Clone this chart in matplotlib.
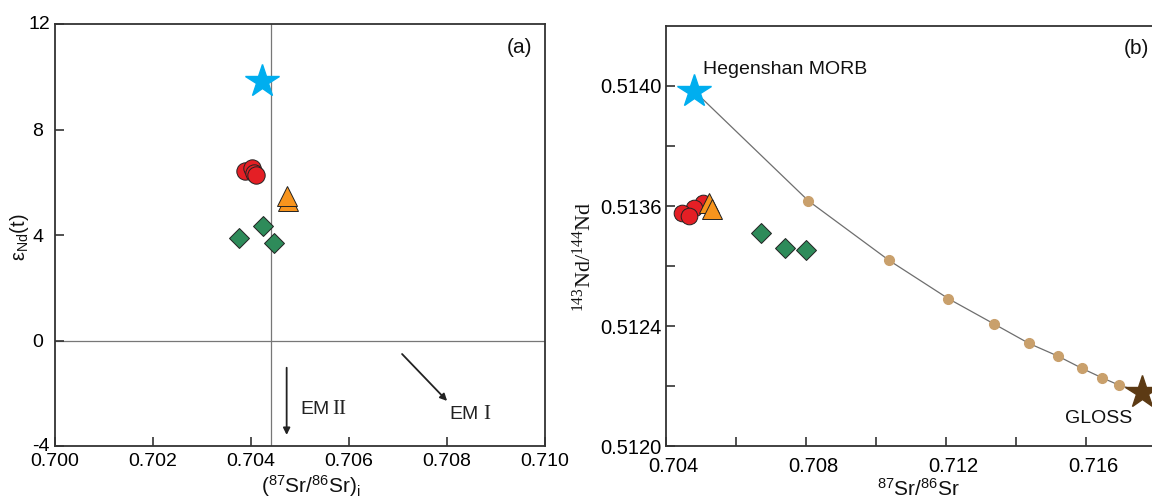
import numpy as np
import matplotlib
matplotlib.use("Agg")
import matplotlib.pyplot as plt
from matplotlib.transforms import ScaledTranslation
from matplotlib.ticker import FixedLocator, FixedFormatter, NullLocator

plt.rcParams['font.family'] = ['Liberation Sans', 'DejaVu Sans']
plt.rcParams['mathtext.fontset'] = 'custom'
plt.rcParams['mathtext.rm'] = 'Liberation Sans'

# ---------------- Data: panel (a) ----------------
a_morb_x = [0.70424]
a_morb_y = [9.85]
a_circle_x = [0.70389, 0.70403, 0.70407, 0.70411]
a_circle_y = [6.45, 6.54, 6.35, 6.28]
a_tri_x = [0.70476, 0.70475]
a_tri_y = [5.30, 5.48]
a_dia_x = [0.70377, 0.70425, 0.70448]
a_dia_y = [3.88, 4.35, 3.71]
a_ref_x = 0.70441
a_ref_y = 0.0
a_xticks = [0.700, 0.702, 0.704, 0.706, 0.708, 0.710]
a_xticklabels = ['0.700', '0.702', '0.704', '0.706', '0.708', '0.710']
a_yticks = [-4, 0, 4, 8, 12]
a_yticklabels = ['-4', '0', '4', '8', '12']

# ---------------- Data: panel (b) ----------------
b_morb_x = [0.70481]
b_morb_y = [0.513983]
b_circle_x = [0.70507, 0.70481, 0.70446, 0.70467]
b_circle_y = [0.51361, 0.51358, 0.51353, 0.51350]
b_tri_x = [0.70524, 0.70531]
b_tri_y = [0.51361, 0.51357]
b_dia_x = [0.70671, 0.70741, 0.70801]
b_dia_y = [0.513327, 0.513183, 0.513157]
mix_x = [0.70807, 0.71037, 0.71207, 0.71336, 0.71437, 0.71521, 0.71588, 0.71645, 0.71694]
mix_y = [0.513617, 0.513057, 0.512673, 0.512423, 0.512342, 0.512299, 0.512259, 0.512228, 0.512203]
gloss_x = [0.71759]
gloss_y = [0.51218]
b_xticks = [0.704, 0.706, 0.708, 0.710, 0.712, 0.714, 0.716, 0.718]
b_xticklabels = ['0.704', '', '0.708', '', '0.712', '', '0.716', '']
b_yticks = [0.5120, 0.5122, 0.5124, 0.5130, 0.5136, 0.5138, 0.5140]
b_yticklabels = ['0.5120', '', '0.5124', '', '0.5136', '', '0.5140']
# piecewise axis breaks of the original figure (value -> tick index)
b_axis_vals = [0.5100, 0.5120, 0.5124, 0.5136, 0.5160]
b_axis_idx = [-10, 0, 2, 4, 16]

RED = '#E41F25'
ORANGE = '#F7941D'
GREEN = '#2E8B5A'
CYAN = '#00AEEF'
TAN = '#C9A06C'
BROWN = '#5C3A14'
SPINE = '#333333'

fig = plt.figure(figsize=(11.52, 4.98), dpi=100)
W, H = 1152.0, 498.0

def style_axes(ax):
    for s in ax.spines.values():
        s.set_color(SPINE)
        s.set_linewidth(1.3)

# ================= Panel (a) =================
axa = fig.add_axes([54.5 / W, 1 - 446 / H, 490.5 / W, 421.7 / H])
style_axes(axa)
axa.set_xlim(0.700, 0.710)
axa.set_ylim(-4, 12)
axa.axvline(a_ref_x, color='#777777', lw=0.9, zorder=1)
axa.axhline(a_ref_y, color='#777777', lw=0.9, zorder=1)

axa.plot(a_morb_x, a_morb_y, ls='none', marker='*', ms=25, mfc=CYAN, mec=CYAN, zorder=5)
axa.plot(a_circle_x, a_circle_y, ls='none', marker='o', ms=12.5, mfc=RED, mec='#222222', mew=0.7, zorder=5)
axa.plot(a_tri_x, a_tri_y, ls='none', marker='^', ms=15, mfc=ORANGE, mec='#222222', mew=0.7, zorder=5)
axa.plot(a_dia_x, a_dia_y, ls='none', marker='D', ms=10, mfc=GREEN, mec='#222222', mew=0.7, zorder=5)

axa.annotate('', xy=(0.704733, -3.58), xytext=(0.704733, -1.03),
             arrowprops=dict(arrowstyle='-|>', color='#222222', lw=1.3, mutation_scale=10,
                             shrinkA=0, shrinkB=0))
axa.annotate('', xy=(0.708004, -2.29), xytext=(0.707086, -0.51),
             arrowprops=dict(arrowstyle='-|>', color='#222222', lw=1.3, mutation_scale=10,
                             shrinkA=0, shrinkB=0))
axa.text(0.70501, -2.61, 'EM', fontsize=14, va='center', ha='left', color='#222222')
axa.text(0.70567, -2.61, 'II', fontsize=15, va='center', ha='left', color='#222222',
         family='Liberation Serif')
axa.text(0.70805, -2.79, 'EM', fontsize=14, va='center', ha='left', color='#222222')
axa.text(0.70874, -2.79, 'I', fontsize=15, va='center', ha='left', color='#222222',
         family='Liberation Serif')
axa.text(0.70949, 11.11, '(a)', fontsize=15, va='center', ha='center', color='#111111')

axa.xaxis.set_major_locator(FixedLocator(a_xticks))
axa.xaxis.set_major_formatter(FixedFormatter(a_xticklabels))
axa.yaxis.set_major_locator(FixedLocator(a_yticks))
axa.yaxis.set_major_formatter(FixedFormatter(a_yticklabels))
axa.tick_params(axis='x', direction='in', length=6.5, width=1.2, color=SPINE, labelsize=14, pad=5)
axa.tick_params(axis='y', direction='in', length=6.5, width=1.2, color=SPINE, labelsize=14, pad=8)
fig.canvas.draw()
for lbl in axa.get_yticklabels():
    if lbl.get_text() in ('12', '-4'):
        lbl.set_transform(lbl.get_transform() + ScaledTranslation(6.5 / 100, 2 / 100, fig.dpi_scale_trans))

axa.text(0.523, -0.095, r'$\mathregular{(^{87}Sr/^{86}Sr)_i}$', transform=axa.transAxes,
         fontsize=15, ha='center', va='center', color='#111111')
axa.text(-0.071, 0.4956, r'$\mathregular{ε_{Nd}(t)}$', transform=axa.transAxes,
         fontsize=14.5, ha='center', va='center', rotation=90, color='#111111')

# ================= Panel (b) =================
def fwd(v):
    return np.interp(v, b_axis_vals, b_axis_idx)

def inv(i):
    return np.interp(i, b_axis_idx, b_axis_vals)

axb = fig.add_axes([666 / W, 1 - 446 / H, 560 / W, 420 / H])
style_axes(axb)
axb.set_yscale('function', functions=(fwd, inv))
axb.set_xlim(0.704, 0.720)
axb.set_ylim(0.5120, 0.5142)

axb.plot(b_morb_x + mix_x + gloss_x, b_morb_y + mix_y + gloss_y, color='#6E6E6E', lw=0.9, zorder=2)
axb.plot(mix_x, mix_y, ls='none', marker='o', ms=7, mfc=TAN, mec=TAN, zorder=3)
axb.plot(b_morb_x, b_morb_y, ls='none', marker='*', ms=25, mfc=CYAN, mec=CYAN, zorder=5)
axb.plot(gloss_x, gloss_y, ls='none', marker='*', ms=25, mfc=BROWN, mec=BROWN, zorder=5)
axb.plot(b_circle_x, b_circle_y, ls='none', marker='o', ms=12, mfc=RED, mec='#222222', mew=0.7, zorder=5)
axb.plot(b_tri_x, b_tri_y, ls='none', marker='^', ms=14, mfc=ORANGE, mec='#222222', mew=0.7, zorder=5)
axb.plot(b_dia_x, b_dia_y, ls='none', marker='D', ms=10, mfc=GREEN, mec='#222222', mew=0.7, zorder=5)

axb.text(0.705069, 0.5140534, 'Hegenshan MORB', fontsize=14, ha='left', va='center', color='#111111')
axb.text(0.716369, 0.5120923, 'GLOSS', fontsize=14, ha='center', va='center', color='#111111')
axb.text(0.717443, 0.5141256, '(b)', fontsize=15, ha='center', va='center', color='#111111')

axb.xaxis.set_major_locator(FixedLocator(b_xticks))
axb.xaxis.set_major_formatter(FixedFormatter(b_xticklabels))
axb.yaxis.set_major_locator(FixedLocator(b_yticks))
axb.yaxis.set_major_formatter(FixedFormatter(b_yticklabels))
axb.yaxis.set_minor_locator(NullLocator())
axb.tick_params(axis='x', direction='in', length=6.5, width=1.2, color=SPINE, labelsize=14.5, pad=8)
axb.tick_params(axis='y', direction='in', length=6.5, width=1.2, color=SPINE, labelsize=14.5, pad=3)
fig.canvas.draw()
for lbl in axb.get_xticklabels():
    lbl.set_transform(lbl.get_transform() + ScaledTranslation(7 / 100, 0, fig.dpi_scale_trans))

axb.text(0.451, -0.077, r'$\mathregular{^{87}Sr/^{86}Sr}$', transform=axb.transAxes,
         fontsize=15, ha='center', va='top', color='#111111')
axb.text(-0.1455, 0.45, r'$\mathregular{^{143}Nd/^{144}Nd}$', transform=axb.transAxes,
         fontsize=16, ha='center', va='center', rotation=90, color='#111111',
         family='Liberation Serif', math_fontfamily='custom')

fig.savefig('out.png', dpi=100)
